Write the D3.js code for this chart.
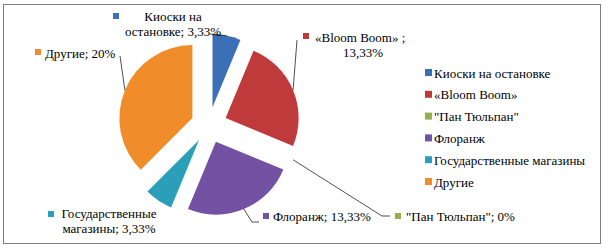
<!DOCTYPE html>
<html>
<head>
<meta charset="utf-8">
<script src="https://cdn.jsdelivr.net/npm/d3@7"></script>
<style>
  body { margin: 0; background: #fff; }
  svg text { font-family: "Liberation Serif", "DejaVu Serif", serif; }
</style>
</head>
<body>
<div class="chart"></div>
<script>
// data
const categories = ["Киоски на остановке", "«Bloom Boom»", "\"Пан Тюльпан\"", "Флоранж", "Государственные магазины", "Другие"];
const values = [3.33, 13.33, 0, 13.33, 3.33, 20];
const valueLabels = ["3,33%", "13,33%", "0%", "13,33%", "3,33%", "20%"];
const colors = ["#3b70b6", "#bf3a3a", "#8fb04a", "#7352a3", "#2a9fb7", "#f08c2a"];

const width = 605, height = 252;
const cx = 209, cy = 125, radius = 73, explode = 18;

// label layout (lines, anchor x, first baseline, square pos, leader bend points)
const labelLayout = [
  { lines: ["Киоски на", "остановке; " + valueLabels[0]], x: 173, y: 21, anchor: "middle", sq: [113, 13], bend: [[210, 34]] },
  { lines: ["«Bloom Boom» ;", valueLabels[1]], x: 315, y: 42, anchor: "start", x2: 363, sq: [303, 33], bend: [[297, 40]] },
  { lines: ["\"Пан Тюльпан\"; " + valueLabels[2]], x: 406, y: 221, anchor: "start", sq: [395, 213], bend: [[382, 216], [390, 216]] },
  { lines: ["Флоранж; " + valueLabels[3]], x: 273, y: 221, anchor: "start", sq: [263, 213], bend: [[252, 222], [259, 222]] },
  { lines: ["Государственные", "магазины; " + valueLabels[4]], x: 109, y: 218, anchor: "middle", sq: [48, 211], bend: null },
  { lines: ["Другие; " + valueLabels[5]], x: 45, y: 58, anchor: "start", sq: [35, 49], bend: [[120, 56]] }
];

const svg = d3.select(".chart").append("svg")
  .attr("width", width)
  .attr("height", height)
  .style("display", "block");

// frame
svg.append("rect")
  .attr("x", 3.5).attr("y", 4.5)
  .attr("width", 597).attr("height", 239)
  .attr("fill", "#fff")
  .attr("stroke", "#7f7f7f");

const pie = d3.pie().sort(null).value(d => d)(values);
const arc = d3.arc().innerRadius(0).outerRadius(radius);

const g = svg.append("g").attr("transform", "translate(" + cx + "," + cy + ")");

function offset(d) {
  const a = (d.startAngle + d.endAngle) / 2;
  return [Math.sin(a) * explode, -Math.cos(a) * explode];
}

g.selectAll("path.slice")
  .data(pie)
  .enter()
  .append("path")
  .attr("class", "slice")
  .attr("transform", d => "translate(" + offset(d) + ")")
  .attr("d", arc)
  .attr("fill", (d, i) => colors[i]);

// leader lines from the middle of each arc edge
pie.forEach(function (d, i) {
  const lay = labelLayout[i];
  if (!lay.bend) return;
  const a = (d.startAngle + d.endAngle) / 2;
  const r = radius + explode;
  const p0 = [cx + Math.sin(a) * r, cy - Math.cos(a) * r];
  const pts = [p0].concat(lay.bend);
  svg.append("path")
    .attr("d", d3.line()(pts))
    .attr("fill", "none")
    .attr("stroke", "#222")
    .attr("stroke-width", 0.8);
});

// data labels
labelLayout.forEach(function (lay, i) {
  svg.append("rect")
    .attr("x", lay.sq[0]).attr("y", lay.sq[1])
    .attr("width", 6).attr("height", 6)
    .attr("fill", colors[i]);
  lay.lines.forEach(function (line, j) {
    const second = j > 0 && lay.x2 !== undefined;
    svg.append("text")
      .attr("x", second ? lay.x2 : lay.x)
      .attr("y", lay.y + j * 15)
      .attr("text-anchor", second ? "middle" : lay.anchor)
      .style("font-size", "13px")
      .attr("fill", "#000")
      .text(line);
  });
});

// legend
const legend = svg.append("g").attr("transform", "translate(425,73)");
categories.forEach(function (name, i) {
  const y = i * 21.8;
  legend.append("rect")
    .attr("x", 0).attr("y", y - 4)
    .attr("width", 7).attr("height", 7)
    .attr("fill", colors[i]);
  legend.append("text")
    .attr("x", 9).attr("y", y + 4.5)
    .style("font-size", "13px")
    .attr("fill", "#000")
    .text(name);
});
</script>
</body>
</html>
